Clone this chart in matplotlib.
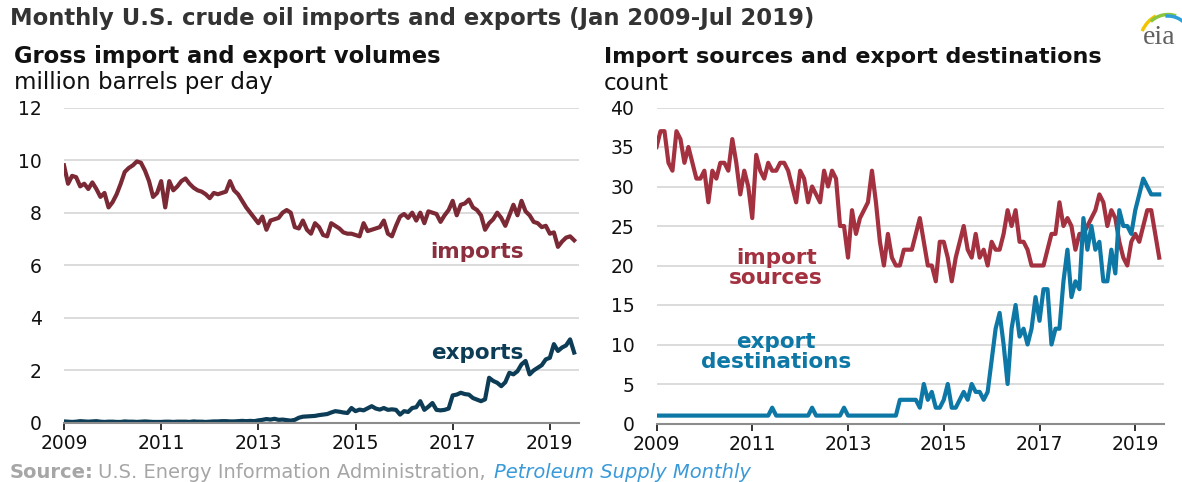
import matplotlib
matplotlib.use("Agg")
import matplotlib.pyplot as plt
from matplotlib.patches import Arc
import numpy as np

plt.rcParams['font.family'] = ['DejaVu Sans']

# monthly, Jan 2009 - Jul 2019
imports = [9.8, 9.1, 9.4, 9.35, 9.0, 9.1, 8.9, 9.15, 8.9, 8.6, 8.75, 8.2,
           8.4, 8.7, 9.1, 9.55, 9.7, 9.8, 9.95, 9.9, 9.6, 9.2, 8.6, 8.75,
           9.2, 8.2, 9.2, 8.85, 9.0, 9.2, 9.3, 9.1, 8.95, 8.85, 8.8, 8.7,
           8.55, 8.75, 8.7, 8.75, 8.8, 9.2, 8.85, 8.7, 8.45, 8.2, 8.0, 7.8,
           7.6, 7.85, 7.35, 7.7, 7.75, 7.8, 8.0, 8.1, 8.0, 7.45, 7.4, 7.7,
           7.35, 7.2, 7.6, 7.45, 7.15, 7.1, 7.6, 7.5, 7.4, 7.25, 7.2, 7.2,
           7.15, 7.1, 7.6, 7.3, 7.35, 7.4, 7.45, 7.7, 7.2, 7.1, 7.5, 7.85,
           7.95, 7.8, 8.0, 7.7, 8.0, 7.6, 8.05, 8.0, 7.95, 7.65, 7.9, 8.1,
           8.45, 7.9, 8.3, 8.35, 8.5, 8.2, 8.1, 7.9, 7.35, 7.6, 7.75, 8.0,
           7.8, 7.5, 7.9, 8.3, 7.9, 8.45, 8.05, 7.9, 7.65, 7.6, 7.45, 7.5,
           7.2, 7.25, 6.7, 6.9, 7.05, 7.1, 6.95]
exports = [0.06, 0.05, 0.04, 0.05, 0.07, 0.06, 0.05, 0.06, 0.07, 0.05, 0.04, 0.05,
           0.05, 0.04, 0.04, 0.06, 0.05, 0.05, 0.04, 0.05, 0.06, 0.05, 0.04, 0.04,
           0.04, 0.05, 0.05, 0.04, 0.05, 0.05, 0.05, 0.04, 0.06, 0.05, 0.05, 0.04,
           0.05, 0.06, 0.06, 0.07, 0.07, 0.06, 0.06, 0.07, 0.08, 0.07, 0.08, 0.07,
           0.10, 0.12, 0.15, 0.13, 0.16, 0.12, 0.13, 0.11, 0.09, 0.12, 0.20, 0.24,
           0.25, 0.26, 0.27, 0.30, 0.32, 0.34, 0.40, 0.45, 0.43, 0.40, 0.38, 0.57,
           0.45, 0.51, 0.48, 0.56, 0.64, 0.55, 0.51, 0.57, 0.50, 0.52, 0.50, 0.32,
           0.45, 0.42, 0.57, 0.60, 0.83, 0.50, 0.62, 0.76, 0.50, 0.48, 0.50, 0.55,
           1.05, 1.08, 1.15, 1.10, 1.08, 0.95, 0.89, 0.83, 0.90, 1.72, 1.60, 1.53,
           1.40, 1.55, 1.91, 1.85, 1.97, 2.23, 2.36, 1.85, 2.0, 2.1, 2.2, 2.42,
           2.48, 3.0, 2.74, 2.87, 2.95, 3.18, 2.68]
import_sources = [35, 37, 37, 33, 32, 37, 36, 33, 35, 33, 31, 31,
                  32, 28, 32, 31, 33, 33, 32, 36, 33, 29, 32, 30,
                  26, 34, 32, 31, 33, 32, 32, 33, 33, 32, 30, 28,
                  32, 31, 28, 30, 29, 28, 32, 30, 32, 31, 25, 25,
                  21, 27, 24, 26, 27, 28, 32, 28, 23, 20, 24, 21,
                  20, 20, 22, 22, 22, 24, 26, 23, 20, 20, 18, 23,
                  23, 21, 18, 21, 23, 25, 22, 21, 24, 21, 22, 20,
                  23, 22, 22, 24, 27, 25, 27, 23, 23, 22, 20, 20,
                  20, 20, 22, 24, 24, 28, 25, 26, 25, 22, 24, 24,
                  25, 26, 27, 29, 28, 25, 27, 26, 23, 21, 20, 23,
                  24, 23, 25, 27, 27, 24, 21]
export_destinations = [1] * 29 + [2] + [1] * 9 + [2] + [1] * 7 + [2] + [1] * 13 + \
    [3, 3, 3, 3, 3, 2, 5, 3, 4, 2, 2, 3, 5, 2, 2, 3, 4, 3, 5, 4, 4, 3, 4,
     8, 12, 14, 10, 5, 12, 15, 11, 12, 10, 12, 16,
     13, 17, 17, 10, 12, 12, 18, 22, 16, 18, 17, 26,
     22, 25, 22, 23, 18, 18, 22, 19, 27, 25, 25, 24,
     27, 29, 31, 30, 29, 29, 29]

years = 2009 + np.arange(len(imports)) / 12
xticks = [2009, 2011, 2013, 2015, 2017, 2019]

W, H = 1182, 482
fig = plt.figure(figsize=(W / 100, H / 100), dpi=100)

def px_axes(x0, x1, y_top, y_bot):
    return fig.add_axes([x0 / W, 1 - y_bot / H, (x1 - x0) / W, (y_bot - y_top) / H])

def style(ax, ymax, ystep):
    ax.set_xlim(2009, 2019.6)
    ax.set_ylim(0, ymax)
    ax.set_xticks(xticks)
    ax.set_yticks(np.arange(0, ymax + 0.1, ystep))
    ax.grid(axis='y', color='#d9d9d9', lw=1.3)
    ax.set_axisbelow(True)
    for s in ['top', 'right', 'left']:
        ax.spines[s].set_visible(False)
    ax.spines['bottom'].set_color('#8c8c8c')
    ax.spines['bottom'].set_linewidth(1.5)
    ax.tick_params(axis='y', length=0, pad=16, labelsize=13.5, labelcolor='#111111')
    ax.tick_params(axis='x', length=5, width=1.3, color='#222222', pad=3,
                   labelsize=13.5, labelcolor='#111111')

ax1 = px_axes(64, 579, 107.5, 423)
style(ax1, 12, 2)
ax1.plot(years, imports, color='#7a2935', lw=3, solid_joinstyle='round')
ax1.plot(years, exports, color='#0d3d56', lw=3, solid_joinstyle='round')
ax1.text(2017.5, 6.5, 'imports', color='#8b2f3f', fontsize=15.5, fontweight='bold',
         ha='center', va='center')
ax1.text(2017.5, 2.68, 'exports', color='#0d3d56', fontsize=15.5, fontweight='bold',
         ha='center', va='center')

ax2 = px_axes(656.5, 1164, 107.5, 423.5)
style(ax2, 40, 5)
ax2.plot(years, import_sources, color='#a3313f', lw=3, solid_joinstyle='round')
ax2.plot(years, export_destinations, color='#0d77a6', lw=3, solid_joinstyle='round')
ax2.text(2011.5, 19.7, 'import\nsources', color='#a3313f', fontsize=15.5,
         fontweight='bold', ha='center', va='center', linespacing=1.0)
ax2.text(2011.5, 9.0, 'export\ndestinations', color='#0d77a6', fontsize=15.5,
         fontweight='bold', ha='center', va='center', linespacing=1.0)

# titles
fig.text(10 / W, 1 - 19 / H, 'Monthly U.S. crude oil imports and exports (Jan 2009-Jul 2019)',
         fontsize=16.4, fontweight='bold', color='#333333', va='center')
fig.text(14 / W, 1 - 57 / H, 'Gross import and export volumes', fontsize=16.3,
         fontweight='bold', color='#111111', va='center')
fig.text(14 / W, 1 - 83 / H, 'million barrels per day', fontsize=16.6,
         color='#111111', va='center')
fig.text(604 / W, 1 - 57 / H, 'Import sources and export destinations', fontsize=16,
         fontweight='bold', color='#111111', va='center')
fig.text(604 / W, 1 - 83 / H, 'count', fontsize=16.6, color='#111111', va='center')

# source line
r = fig.canvas.get_renderer()
t1 = fig.text(10 / W, 1 - 472 / H, 'Source:', fontsize=14, fontweight='bold',
              color='#a6a6a6', va='center')
x = t1.get_window_extent(r).x1 + 4
t2 = fig.text(x / W, 1 - 472 / H, 'U.S. Energy Information Administration, ',
              fontsize=14, color='#a6a6a6', va='center')
x = t2.get_window_extent(r).x1 + 2
fig.text(x / W, 1 - 472 / H, 'Petroleum Supply Monthly', fontsize=14,
         style='italic', color='#3a9ad9', va='center')

# eia logo (pixel-like coords, y up)
lax = px_axes(1134, 1182, 0, 50)
lax.set_xlim(0, 48)
lax.set_ylim(0, 50)
lax.axis('off')
for c, th1, th2, dr in [('#f2c500', 112, 150, 0), ('#8cc63f', 75, 125, -3), ('#2e9fd8', 40, 95, -6)]:
    lax.add_patch(Arc((34, 4), 58 + dr, 66 + dr, theta1=th1, theta2=th2, color=c, lw=2.5))
lax.text(25, 12, 'eia', fontsize=20, family='Liberation Serif', color='#606060',
         ha='center', va='center')

fig.savefig('out.png', dpi=100)
